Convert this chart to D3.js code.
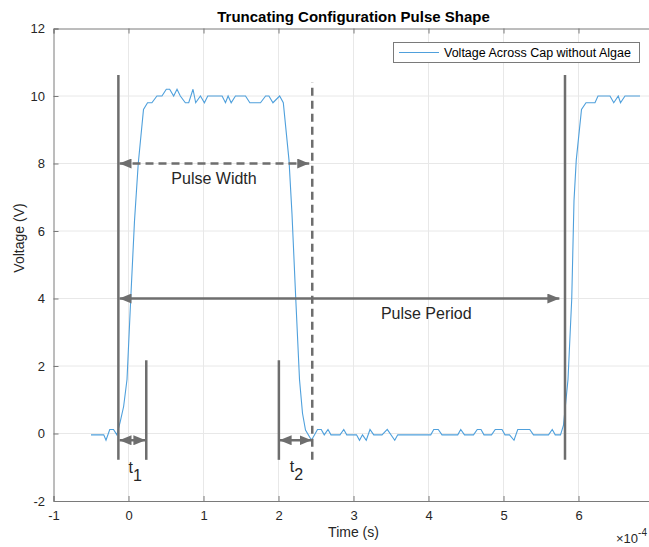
<!DOCTYPE html>
<html>
<head>
<meta charset="utf-8">
<script src="https://cdn.jsdelivr.net/npm/d3@7"></script>
<style>
  body { margin: 0; background: #fff; }
  svg { display: block; font-family: "Liberation Sans", Arial, sans-serif; }
</style>
</head>
<body>
<div id="chart"></div>
<script>
// time in units of 1e-4 s, voltage in V
let time = [-0.5, -0.33, -0.3, -0.25, -0.2, -0.155, -0.11, -0.065, -0.02, 0.03, 0.08, 0.13, 0.2,
  0.254, 0.312, 0.379, 0.446, 0.504, 0.549, 0.602, 0.647, 0.691, 0.758, 0.803, 0.86, 0.896, 0.959,
  1.012, 1.057, 1.248, 1.293, 1.328, 1.369, 1.426, 1.56, 1.618, 1.76, 1.828, 1.872, 1.926, 2.015,
  2.064, 2.14, 2.18, 2.23, 2.28, 2.32, 2.36, 2.44, 2.52, 2.57, 2.61, 2.66, 2.70, 2.82, 2.87, 2.91,
  3.04, 3.08, 3.12, 3.17, 3.22, 3.27, 3.38, 3.45, 3.55, 3.59, 4.03, 4.07, 4.13, 4.18, 4.39, 4.43,
  4.48, 4.60, 4.65, 4.70, 4.74, 4.84, 4.89, 4.98, 5.02, 5.08, 5.14, 5.19, 5.35, 5.40, 5.60, 5.65,
  5.69, 5.76, 5.80, 5.86, 5.91, 5.94, 5.97, 6.04, 6.10, 6.22, 6.26, 6.42, 6.47, 6.53, 6.56, 6.62, 6.82];
let voltage = [-0.04, -0.04, -0.2, 0.12, 0.12, -0.04, 0.35, 0.8, 1.6, 4.0, 6.3, 8.0, 9.6,
  9.8, 9.8, 10.0, 10.0, 10.2, 10.2, 10.0, 10.2, 10.0, 9.8, 9.8, 10.2, 9.8, 10.0,
  9.8, 10.0, 10.0, 9.8, 10.0, 9.8, 10.0, 10.0, 9.8, 9.8, 10.0, 10.0, 9.8, 10.0,
  9.8, 8.1, 6.5, 4.0, 1.6, 0.6, 0.1, -0.2, 0.12, 0.12, -0.04, 0.12, -0.04, -0.04, 0.12, -0.04,
  -0.04, -0.2, -0.04, -0.2, 0.12, -0.04, -0.04, 0.12, -0.2, -0.04, -0.04, 0.12, 0.12, -0.04, -0.04, 0.12,
  -0.04, -0.04, 0.12, 0.12, -0.04, -0.04, 0.12, 0.12, -0.04, -0.04, -0.2, 0.12, 0.12, -0.04, -0.04, 0.12,
  -0.04, -0.04, 0.25, 1.6, 4.0, 6.9, 8.1, 9.6, 9.8, 9.8, 10.0, 10.0, 9.8, 10.0, 9.8, 10.0, 10.0];

let xTicks = [-1, 0, 1, 2, 3, 4, 5, 6, 7];
let yTicks = [-2, 0, 2, 4, 6, 8, 10, 12];

// annotation marks, in data units
let solidLines = [
  { x: -0.135, y0: -0.78, y1: 10.62 },
  { x: 0.237, y0: -0.78, y1: 2.17 },
  { x: 2.005, y0: -0.78, y1: 2.17 },
  { x: 5.82, y0: -0.78, y1: 10.62 }
];
let dashedLines = [{ x: 2.45, y0: -0.78, y1: 10.4 }];
let arrows = [
  { name: "Pulse Width", x0: -0.12, x1: 2.41, y: 8.0, dashed: true },
  { name: "Pulse Period", x0: -0.12, x1: 5.745, y: 4.0, dashed: false },
  { name: "t1", x0: -0.12, x1: 0.225, y: -0.2, dashed: false },
  { name: "t2", x0: 2.015, x1: 2.44, y: -0.2, dashed: false }
];

let width = 649, height = 547;
let gray = "#6e6e6e";

let svg = d3.select("#chart").append("svg")
  .attr("width", width).attr("height", height);

let xScale = d3.scaleLinear().domain([-1, 7]).range([53.5, 653.5]);
let yScale = d3.scaleLinear().domain([-2, 12]).range([501, 28.5]);

// arrow head
svg.append("defs").append("marker")
  .attr("id", "head")
  .attr("viewBox", "0 0 12 10")
  .attr("refX", 12).attr("refY", 5)
  .attr("markerWidth", 12).attr("markerHeight", 10)
  .attr("markerUnits", "userSpaceOnUse")
  .attr("orient", "auto-start-reverse")
  .append("path")
  .attr("d", "M0,0 L12,5 L0,10 Z")
  .attr("fill", gray);

// grid
svg.append("g").selectAll("line")
  .data(xTicks.slice(1, -1))
  .enter().append("line")
  .attr("x1", d => xScale(d)).attr("x2", d => xScale(d))
  .attr("y1", yScale(-2)).attr("y2", yScale(12))
  .attr("stroke", "#e8e8e8");
svg.append("g").selectAll("line")
  .data(yTicks.slice(1, -1))
  .enter().append("line")
  .attr("x1", xScale(-1)).attr("x2", xScale(7))
  .attr("y1", d => yScale(d)).attr("y2", d => yScale(d))
  .attr("stroke", "#e8e8e8");

// axes (plain hyphen for negatives, like the original)
let fmt = d => String(d);
let xAxis = svg.append("g")
  .attr("transform", `translate(0, ${yScale(-2)})`)
  .call(d3.axisBottom(xScale).tickValues(xTicks.slice(0, -1)).tickFormat(fmt).tickSize(-5).tickPadding(9.5));
let xAxisTop = svg.append("g")
  .attr("transform", `translate(0, ${yScale(12)})`)
  .call(d3.axisTop(xScale).tickValues(xTicks).tickSize(-5).tickFormat(""));
let yAxis = svg.append("g")
  .attr("transform", `translate(${xScale(-1)}, 0)`)
  .call(d3.axisLeft(yScale).tickValues(yTicks).tickFormat(fmt).tickSize(-5).tickPadding(8.5));

[xAxis, xAxisTop, yAxis].forEach(a => {
  a.select(".domain").attr("stroke", "#7a7a7a");
  a.selectAll(".tick line").attr("stroke", "#7a7a7a");
  a.selectAll("text").attr("fill", "#262626").style("font-size", "13px");
});

// axis labels
svg.append("text")
  .attr("x", xScale(3)).attr("y", 537)
  .attr("text-anchor", "middle")
  .attr("fill", "#262626").style("font-size", "14px")
  .text("Time (s)");
svg.append("text")
  .attr("transform", "translate(24, 238) rotate(-90)")
  .attr("text-anchor", "middle")
  .attr("fill", "#262626").style("font-size", "14px")
  .text("Voltage (V)");
let expo = svg.append("text")
  .attr("x", 616).attr("y", 543)
  .attr("fill", "#262626").style("font-size", "13px");
expo.append("tspan").text("\u00d710");
expo.append("tspan").attr("dy", -7).style("font-size", "10px").text("-4");

// title
svg.append("text")
  .attr("x", xScale(3)).attr("y", 22)
  .attr("text-anchor", "middle")
  .attr("fill", "#000").style("font-size", "15px").style("font-weight", "bold")
  .text("Truncating Configuration Pulse Shape");

// signal
let line = d3.line()
  .x((d, i) => xScale(time[i]))
  .y(d => yScale(d));
svg.append("path")
  .attr("d", line(voltage))
  .attr("fill", "none")
  .attr("stroke", "#4fa0dc")
  .attr("stroke-width", 1.1);

// annotation lines
svg.append("g").selectAll("line")
  .data(solidLines)
  .enter().append("line")
  .attr("x1", d => xScale(d.x)).attr("x2", d => xScale(d.x))
  .attr("y1", d => yScale(d.y0)).attr("y2", d => yScale(d.y1))
  .attr("stroke", gray).attr("stroke-width", 2.5);
svg.append("g").selectAll("line")
  .data(dashedLines)
  .enter().append("line")
  .attr("x1", d => xScale(d.x)).attr("x2", d => xScale(d.x))
  .attr("y1", d => yScale(d.y0)).attr("y2", d => yScale(d.y1))
  .attr("stroke", gray).attr("stroke-width", 2.5)
  .attr("stroke-dasharray", "8,5");
svg.append("g").selectAll("line")
  .data(arrows)
  .enter().append("line")
  .attr("x1", d => xScale(d.x0)).attr("x2", d => xScale(d.x1))
  .attr("y1", d => yScale(d.y)).attr("y2", d => yScale(d.y))
  .attr("stroke", gray).attr("stroke-width", 2.5)
  .attr("stroke-dasharray", d => d.dashed ? "8,5" : null)
  .attr("marker-start", "url(#head)")
  .attr("marker-end", "url(#head)");

// annotation text
let labelColor = "#262626";
svg.append("text")
  .attr("x", xScale(1.14)).attr("y", 184)
  .attr("text-anchor", "middle").attr("fill", labelColor)
  .style("font-size", "16px").text("Pulse Width");
svg.append("text")
  .attr("x", xScale(3.97)).attr("y", 319)
  .attr("text-anchor", "middle").attr("fill", labelColor)
  .style("font-size", "16px").text("Pulse Period");
[["t", "1", 0.0, 473], ["t", "2", 2.15, 472]].forEach(([a, b, x, y]) => {
  let t = svg.append("text")
    .attr("x", xScale(x)).attr("y", y)
    .attr("fill", labelColor).style("font-size", "16px");
  t.append("tspan").text(a);
  t.append("tspan").attr("dy", 8).text(b);
});

// legend
let legend = svg.append("g");
legend.append("rect")
  .attr("x", 393.5).attr("y", 42.5).attr("width", 246).attr("height", 20)
  .attr("fill", "#fff").attr("stroke", "#7a7a7a");
legend.append("line")
  .attr("x1", 399).attr("x2", 439).attr("y1", 52.5).attr("y2", 52.5)
  .attr("stroke", "#4fa0dc").attr("stroke-width", 1.1);
legend.append("text")
  .attr("x", 444).attr("y", 57)
  .attr("fill", "#000").style("font-size", "12.5px")
  .text("Voltage Across Cap without Algae");
</script>
</body>
</html>
